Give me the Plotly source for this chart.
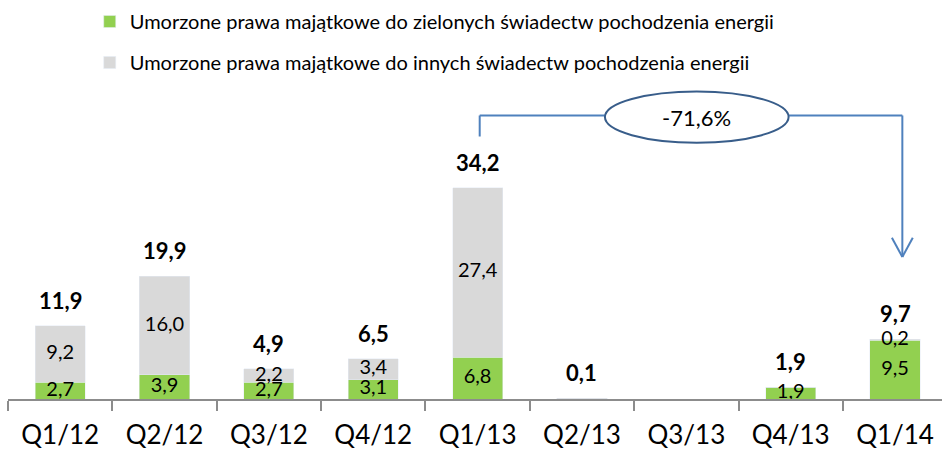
import plotly.graph_objects as go

categories = ["Q1/12", "Q2/12", "Q3/12", "Q4/12", "Q1/13", "Q2/13", "Q3/13", "Q4/13", "Q1/14"]
green_values = [2.7, 3.9, 2.7, 3.1, 6.8, 0.0, 0.0, 1.9, 9.5]
gray_values = [9.2, 16.0, 2.2, 3.4, 27.4, 0.1, 0.0, 0.0, 0.2]
green_name = "Umorzone prawa majątkowe do zielonych świadectw pochodzenia energii"
gray_name = "Umorzone prawa majątkowe do innych świadectw pochodzenia energii"
change_label = "-71,6%"

GREEN = "#92d050"
GRAY = "#d9d9d9"
FONT = "Lato"
LINE_BLUE = "#4f81bd"
ELLIPSE_BLUE = "#385d8a"


def fmt(v):
    return f"{v:.1f}".replace(".", ",")


totals = [g + o for g, o in zip(green_values, gray_values)]

fig = go.Figure()
fig.add_trace(go.Bar(
    x=categories, y=green_values, name=green_name, marker_color=GREEN,
    width=0.48, legendgroup="g", hoverinfo="skip",
))
fig.add_trace(go.Bar(
    x=categories, y=gray_values, name=gray_name, marker_color=GRAY,
    width=0.48, legendgroup="o", hoverinfo="skip",
))

# segment labels at segment midpoints
seg_x, seg_y, seg_t = [], [], []
for c, g, o in zip(categories, green_values, gray_values):
    if g >= 0.15:
        seg_x.append(c); seg_y.append(g / 2); seg_t.append(fmt(g))
    if o >= 0.15:
        seg_x.append(c); seg_y.append(g + o / 2); seg_t.append(fmt(o))
fig.add_trace(go.Scatter(
    x=seg_x, y=seg_y, text=seg_t, mode="text", showlegend=False,
    textfont=dict(family=FONT, size=20, color="#000000"), hoverinfo="skip",
    cliponaxis=False,
))

annotations = []
for c, t in zip(categories, totals):
    if t > 0:
        annotations.append(dict(
            x=c, y=t, text="<b>" + fmt(t) + "</b>", showarrow=False,
            yanchor="bottom", yshift=10,
            font=dict(family=FONT, size=22, color="#000000"),
        ))
annotations.append(dict(
    x=6.1, y=45.65, text=change_label, showarrow=False,
    font=dict(family=FONT, size=22, color="#000000"),
))

line = dict(color=LINE_BLUE, width=2)
shapes = [
    dict(type="line", xref="x", yref="y", x0=4.02, y0=42.5, x1=4.02, y1=45.9, line=line),
    dict(type="line", xref="x", yref="y", x0=4.02, y0=45.9, x1=5.22, y1=45.9, line=line),
    dict(type="line", xref="x", yref="y", x0=6.98, y0=45.9, x1=8.07, y1=45.9, line=line),
    dict(type="line", xref="x", yref="y", x0=8.07, y0=45.9, x1=8.07, y1=23.0, line=line),
    dict(type="line", xref="x", yref="y", x0=7.97, y0=26.1, x1=8.07, y1=23.0, line=line),
    dict(type="line", xref="x", yref="y", x0=8.17, y0=26.1, x1=8.07, y1=23.0, line=line),
    dict(type="circle", xref="x", yref="y", x0=5.22, x1=6.98, y0=41.5, y1=49.8,
         line=dict(color=ELLIPSE_BLUE, width=2), fillcolor="white"),
]

fig.update_layout(
    width=942, height=450,
    margin=dict(l=8, r=0, t=0, b=51),
    barmode="stack",
    plot_bgcolor="white", paper_bgcolor="white",
    font=dict(family=FONT, color="#000000"),
    showlegend=True,
    legend=dict(
        x=0.0875, y=0.995, xanchor="left", yanchor="top",
        font=dict(family=FONT, size=20, color="#000000"),
        traceorder="grouped", tracegroupgap=12,
        bgcolor="rgba(0,0,0,0)",
    ),
    annotations=annotations,
    shapes=shapes,
    xaxis=dict(
        type="category", categoryorder="array", categoryarray=categories,
        range=[-0.5, 8.45], tickson="boundaries", ticks="outside", ticklen=10,
        tickcolor="#8c8c8c", tickwidth=1.5, showline=True, linecolor="#8c8c8c",
        linewidth=1.5, showgrid=False, zeroline=False, tickangle=0,
        automargin=False, ticklabelstandoff=12,
        tickfont=dict(family=FONT, size=26, color="#000000"),
    ),
    yaxis=dict(range=[0, 64.6], visible=False, showgrid=False, zeroline=False,
               automargin=False),
)

fig.write_html(
    "out.html",
    config={"displayModeBar": False},
    post_script="document.body.style.margin='0';document.body.style.overflow='hidden';",
)
